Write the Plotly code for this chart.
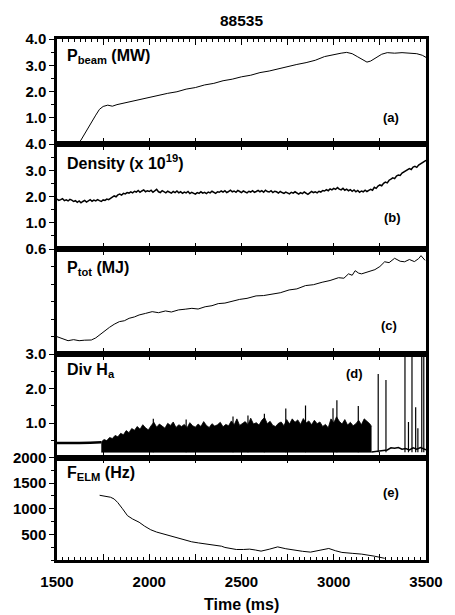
import plotly.graph_objects as go

# ---------------- data ----------------
shot_title = "88535"
x_range = [1500, 3500]

beam_t = [1500, 1610, 1630, 1650, 1670, 1690, 1710, 1730, 1750, 1775, 1800, 1825,
          1850, 1900, 1950, 2000, 2050, 2100, 2150, 2200, 2250, 2300, 2350, 2400,
          2450, 2500, 2550, 2600, 2650, 2700, 2750, 2800, 2850, 2900, 2950, 3000,
          3040, 3070, 3100, 3130, 3160, 3180, 3200, 3230, 3260, 3290, 3330, 3370,
          3410, 3450, 3480, 3500]
beam_p = [0.0, 0.0, 0.15, 0.40, 0.63, 0.86, 1.10, 1.32, 1.43, 1.48, 1.44, 1.50,
          1.54, 1.62, 1.69, 1.77, 1.84, 1.93, 1.99, 2.09, 2.15, 2.25, 2.31, 2.41,
          2.47, 2.56, 2.62, 2.72, 2.78, 2.87, 2.94, 3.03, 3.10, 3.19, 3.33, 3.41,
          3.46, 3.49, 3.44, 3.32, 3.18, 3.12, 3.16, 3.30, 3.42, 3.48, 3.46, 3.48,
          3.46, 3.44, 3.38, 3.30]

dens_t = list(range(1500, 3501, 10))
dens_v = [1.90, 1.85, 1.88, 1.92, 1.84, 1.87, 1.83, 1.89, 1.86, 1.81,
          1.84, 1.78, 1.83, 1.76, 1.81, 1.85, 1.79, 1.84, 1.88, 1.82,
          1.86, 1.83, 1.88, 1.84, 1.81, 1.87, 1.85, 1.90, 1.88, 1.93,
          1.97, 2.02, 1.99, 2.06, 2.09, 2.05, 2.12, 2.10, 2.15, 2.13,
          2.18, 2.14, 2.20, 2.17, 2.23, 2.16, 2.21, 2.25, 2.18, 2.22,
          2.19, 2.24, 2.16, 2.21, 2.27, 2.18, 2.15, 2.22, 2.19, 2.14,
          2.20, 2.16, 2.13, 2.19, 2.15, 2.21, 2.14, 2.18, 2.12, 2.17,
          2.14, 2.19, 2.11, 2.16, 2.13, 2.09, 2.15, 2.12, 2.18, 2.13,
          2.16, 2.11, 2.17, 2.14, 2.20, 2.15, 2.12, 2.18, 2.16, 2.21,
          2.17, 2.22, 2.15, 2.19, 2.24, 2.18, 2.21, 2.16, 2.23, 2.19,
          2.15, 2.21, 2.18, 2.14, 2.20, 2.17, 2.22, 2.16, 2.19, 2.23,
          2.18, 2.22, 2.16, 2.24, 2.19, 2.17, 2.22, 2.15, 2.20, 2.18,
          2.13, 2.19, 2.15, 2.12, 2.17, 2.14, 2.10, 2.16, 2.13, 2.18,
          2.12, 2.09, 2.15, 2.11, 2.17, 2.13, 2.08, 2.14, 2.19, 2.15,
          2.18, 2.14, 2.20, 2.17, 2.23, 2.21, 2.26, 2.22, 2.29, 2.25,
          2.31, 2.27, 2.34, 2.28, 2.25, 2.31, 2.24, 2.28, 2.22, 2.26,
          2.20, 2.25, 2.18, 2.23, 2.16, 2.21, 2.18, 2.24, 2.19, 2.23,
          2.27, 2.24, 2.35, 2.31, 2.40, 2.44, 2.41, 2.50, 2.55, 2.52,
          2.62, 2.66, 2.71, 2.68, 2.78, 2.82, 2.80, 2.89, 2.93, 2.97,
          3.02, 3.06, 3.03, 3.12, 3.15, 3.11, 3.20, 3.24, 3.28, 3.33,
          3.38]

ptot_t = [1500, 1530, 1560, 1590, 1620, 1650, 1686, 1710, 1731, 1760, 1784, 1810,
          1838, 1865, 1891, 1920, 1945, 1980, 2016, 2050, 2088, 2120, 2159, 2195,
          2231, 2265, 2303, 2340, 2374, 2410, 2450, 2490, 2530, 2579, 2620, 2669,
          2710, 2758, 2800, 2847, 2890, 2937, 2980, 3026, 3055, 3080, 3100, 3116,
          3135, 3151, 3190, 3223, 3250, 3276, 3300, 3330, 3360, 3384, 3410, 3437,
          3460, 3473, 3495]
ptot_v = [0.099, 0.088, 0.076, 0.082, 0.076, 0.079, 0.080, 0.092, 0.109, 0.135,
          0.152, 0.170, 0.185, 0.190, 0.204, 0.212, 0.223, 0.232, 0.242, 0.236,
          0.246, 0.240, 0.252, 0.256, 0.261, 0.257, 0.270, 0.276, 0.288, 0.291,
          0.302, 0.312, 0.318, 0.332, 0.334, 0.345, 0.350, 0.366, 0.372, 0.391,
          0.396, 0.410, 0.420, 0.436, 0.433, 0.458, 0.450, 0.476, 0.462, 0.458,
          0.470, 0.482, 0.500, 0.527, 0.522, 0.547, 0.530, 0.527, 0.540, 0.528,
          0.545, 0.562, 0.535]

ha_pre_t = [1500, 1560, 1620, 1680, 1740]
ha_pre_v = [0.42, 0.41, 0.42, 0.43, 0.44]

elm_base = 0.15
elm_t = list(range(1740, 3196, 15)) + [3205]
elm_top = [0.45, 0.52, 0.49, 0.58, 0.55, 0.64, 0.60, 0.70, 0.66, 0.78,
           0.72, 0.84, 0.79, 0.90, 0.82, 0.95, 0.86, 0.80, 0.92, 1.02,
           0.88, 0.97, 0.91, 0.85, 0.99, 0.93, 1.03, 0.87, 0.95, 0.90,
           0.96, 0.86, 1.01, 0.92, 0.88, 0.97, 0.90, 1.04, 0.93, 0.87,
           0.98, 0.91, 0.95, 1.02, 0.89, 0.96, 0.92, 1.06, 0.94, 1.12,
           0.93, 0.99, 1.04, 0.95, 1.14, 0.97, 1.01, 0.94, 1.08, 1.16,
           0.98, 1.05, 0.93, 0.90, 0.99, 1.03, 0.92, 1.10, 0.97, 1.12,
           1.02, 1.09, 0.96, 1.13, 1.00, 1.06, 0.95, 1.08, 0.98, 1.03,
           0.90, 0.96, 0.86, 1.12, 1.00, 1.18, 1.05, 0.97, 1.10, 0.94,
           1.02, 0.92, 0.98, 1.08, 0.95, 1.12, 1.05, 0.98,
           0.90]

spike_t = [2022, 2200, 2454, 2535, 2624, 2740, 2847, 2996, 3017, 3133,
           3241, 3283, 3386, 3405, 3424, 3444, 3456, 3477, 3488]
spike_v = [1.12, 1.10, 1.19, 1.22, 1.27, 1.42, 1.51, 1.43, 1.66, 1.49,
           2.42, 2.25, 2.92, 1.03, 3.0, 1.46, 0.85, 3.0, 3.0]

ha_post_t = [3205, 3230, 3260, 3290, 3310, 3330, 3350, 3370, 3390, 3410, 3430,
             3450, 3470, 3490, 3500]
ha_post_v = [0.16, 0.18, 0.20, 0.22, 0.28, 0.27, 0.29, 0.24, 0.26, 0.22, 0.28,
             0.24, 0.29, 0.25, 0.22]

felm_t = [1731, 1760, 1790, 1810, 1829, 1855, 1882, 1910, 1945, 1975, 2008, 2040,
          2070, 2105, 2142, 2170, 2195, 2230, 2267, 2300, 2338, 2365, 2392, 2410,
          2440, 2472, 2510, 2544, 2575, 2606, 2650, 2696, 2740, 2785, 2830, 2874,
          2920, 2973, 3010, 3044, 3100, 3151, 3220, 3276]
felm_v = [1263, 1250, 1225, 1190, 1122, 1000, 865, 800, 737, 660, 590, 545,
          513, 485, 449, 420, 385, 355, 333, 318, 301, 290, 269, 245,
          225, 205, 205, 212, 195, 173, 210, 256, 220, 192, 170, 154,
          190, 225, 180, 148, 130, 115, 75, 33]

panel_labels = ["P<sub>beam</sub> (MW)", "Density (x 10<sup>19</sup>)",
                "P<sub>tot</sub> (MJ)", "Div H<sub>a</sub>", "F<sub>ELM</sub> (Hz)"]
panel_tags = ["(a)", "(b)", "(c)", "(d)", "(e)"]

y_ranges = [[0, 4], [0, 4], [0, 0.6], [0, 3], [0, 2000]]
y_tickvals = [[1, 2, 3, 4], [1, 2, 3, 4], [0.6], [1, 2, 3], [500, 1000, 1500, 2000]]
y_ticktext = [["1.0", "2.0", "3.0", "4.0"], ["1.0", "2.0", "3.0", "4.0"], ["0.6"],
              ["1.0", "2.0", "3.0"], ["500", "1000", "1500", "2000"]]
y_minor = [0.5, 0.5, 0.1, 0.5, 250]
x_label = "Time (ms)"

# ---------------- geometry (pixels) ----------------
W, H = 455, 615
L, R, T, B = 57, 25, 39, 55
plot_h = H - T - B
plot_w = W - L - R
bounds = [39, 144, 249, 354, 457.5, 560]


def py(y):
    return (H - B - y) / plot_h


def px(x):
    return (x - L) / plot_w


FONT = "Liberation Sans, Arial, Helvetica, sans-serif"
fig = go.Figure()

line = dict(color="black", width=1)

fig.add_trace(go.Scatter(x=beam_t, y=beam_p, mode="lines", line=line, xaxis="x", yaxis="y"))
fig.add_trace(go.Scatter(x=dens_t, y=dens_v, mode="lines", line=dict(color="black", width=1.5),
                         xaxis="x2", yaxis="y2"))
fig.add_trace(go.Scatter(x=ptot_t, y=ptot_v, mode="lines", line=line, xaxis="x3", yaxis="y3"))

# Div H-alpha
fig.add_trace(go.Scatter(x=ha_pre_t, y=ha_pre_v, mode="lines", line=dict(color="black", width=2.5),
                         xaxis="x4", yaxis="y4"))
fig.add_trace(go.Scatter(x=elm_t, y=[elm_base] * len(elm_t), mode="lines",
                         line=dict(color="black", width=0.5), xaxis="x4", yaxis="y4"))
fig.add_trace(go.Scatter(x=elm_t, y=elm_top, mode="lines", fill="tonexty", fillcolor="black",
                         line=dict(color="black", width=0.8), xaxis="x4", yaxis="y4"))
sx, sy = [], []
for t, v in zip(spike_t, spike_v):
    sx += [t, t, None]
    sy += [elm_base, v, None]
fig.add_trace(go.Scatter(x=sx, y=sy, mode="lines", line=dict(color="black", width=1.2),
                         xaxis="x4", yaxis="y4"))
fig.add_trace(go.Scatter(x=ha_post_t, y=ha_post_v, mode="lines", line=dict(color="black", width=1.5),
                         xaxis="x4", yaxis="y4"))

fig.add_trace(go.Scatter(x=felm_t, y=felm_v, mode="lines", line=line, xaxis="x5", yaxis="y5"))

layout = dict(
    width=W, height=H, margin=dict(l=L, r=R, t=T, b=B),
    paper_bgcolor="white", plot_bgcolor="white", showlegend=False,
    font=dict(family=FONT, color="black", size=15),
)

for i in range(5):
    k = "" if i == 0 else str(i + 1)
    top, bot = bounds[i], bounds[i + 1]
    layout["yaxis" + k] = dict(
        domain=[py(bot), py(top)], range=y_ranges[i], anchor="x" + k,
        tickvals=y_tickvals[i], ticktext=y_ticktext[i],
        ticks="outside", ticklen=5, tickwidth=1.2, tickcolor="black",
        minor=dict(dtick=y_minor[i], ticks="outside", ticklen=3, tickcolor="black", tickwidth=1),
        showline=True, linewidth=2.5, linecolor="black", mirror=True,
        showgrid=False, zeroline=False, fixedrange=True,
        tickfont=dict(family=FONT, size=15, weight="bold"),
    )
    layout["xaxis" + k] = dict(
        domain=[0, 1], range=x_range, anchor="y" + k,
        tick0=1500, dtick=250, ticklabelstep=2,
        ticks="inside", ticklen=6, tickwidth=1.2, tickcolor="black",
        minor=dict(dtick=31.25, ticks="inside", ticklen=3, tickcolor="black", tickwidth=1),
        showline=True, linewidth=2.5, linecolor="black", mirror="ticks",
        showgrid=False, zeroline=False, showticklabels=(i == 4), fixedrange=True,
        tickfont=dict(family=FONT, size=15, weight="bold"), ticklabelstandoff=6,
    )

fig.update_layout(**layout)

ann = []
ann.append(dict(text="<b>%s</b>" % shot_title, x=px(243), y=py(20), xref="paper", yref="paper",
                showarrow=False, font=dict(family=FONT, size=15.5), xanchor="center", yanchor="middle"))
ann.append(dict(text="<b>%s</b>" % x_label, x=px(243), y=py(604), xref="paper", yref="paper",
                showarrow=False, font=dict(family=FONT, size=16), xanchor="center", yanchor="middle"))
label_y = [57, 162, 268, 371, 473]
for lbl, yy in zip(panel_labels, label_y):
    ann.append(dict(text="<b>%s</b>" % lbl, x=px(65), y=py(yy), xref="paper", yref="paper",
                    showarrow=False, font=dict(family=FONT, size=16), xanchor="left", yanchor="middle"))
tag_pos = [(395, 117), (396, 217), (393, 325), (358, 373), (395, 492)]
for tag, (tx, ty) in zip(panel_tags, tag_pos):
    ann.append(dict(text="<b>%s</b>" % tag, x=px(tx), y=py(ty), xref="paper", yref="paper",
                    showarrow=False, font=dict(family=FONT, size=13), xanchor="center", yanchor="middle"))
fig.update_layout(annotations=ann)

fig.write_html("out.html")
